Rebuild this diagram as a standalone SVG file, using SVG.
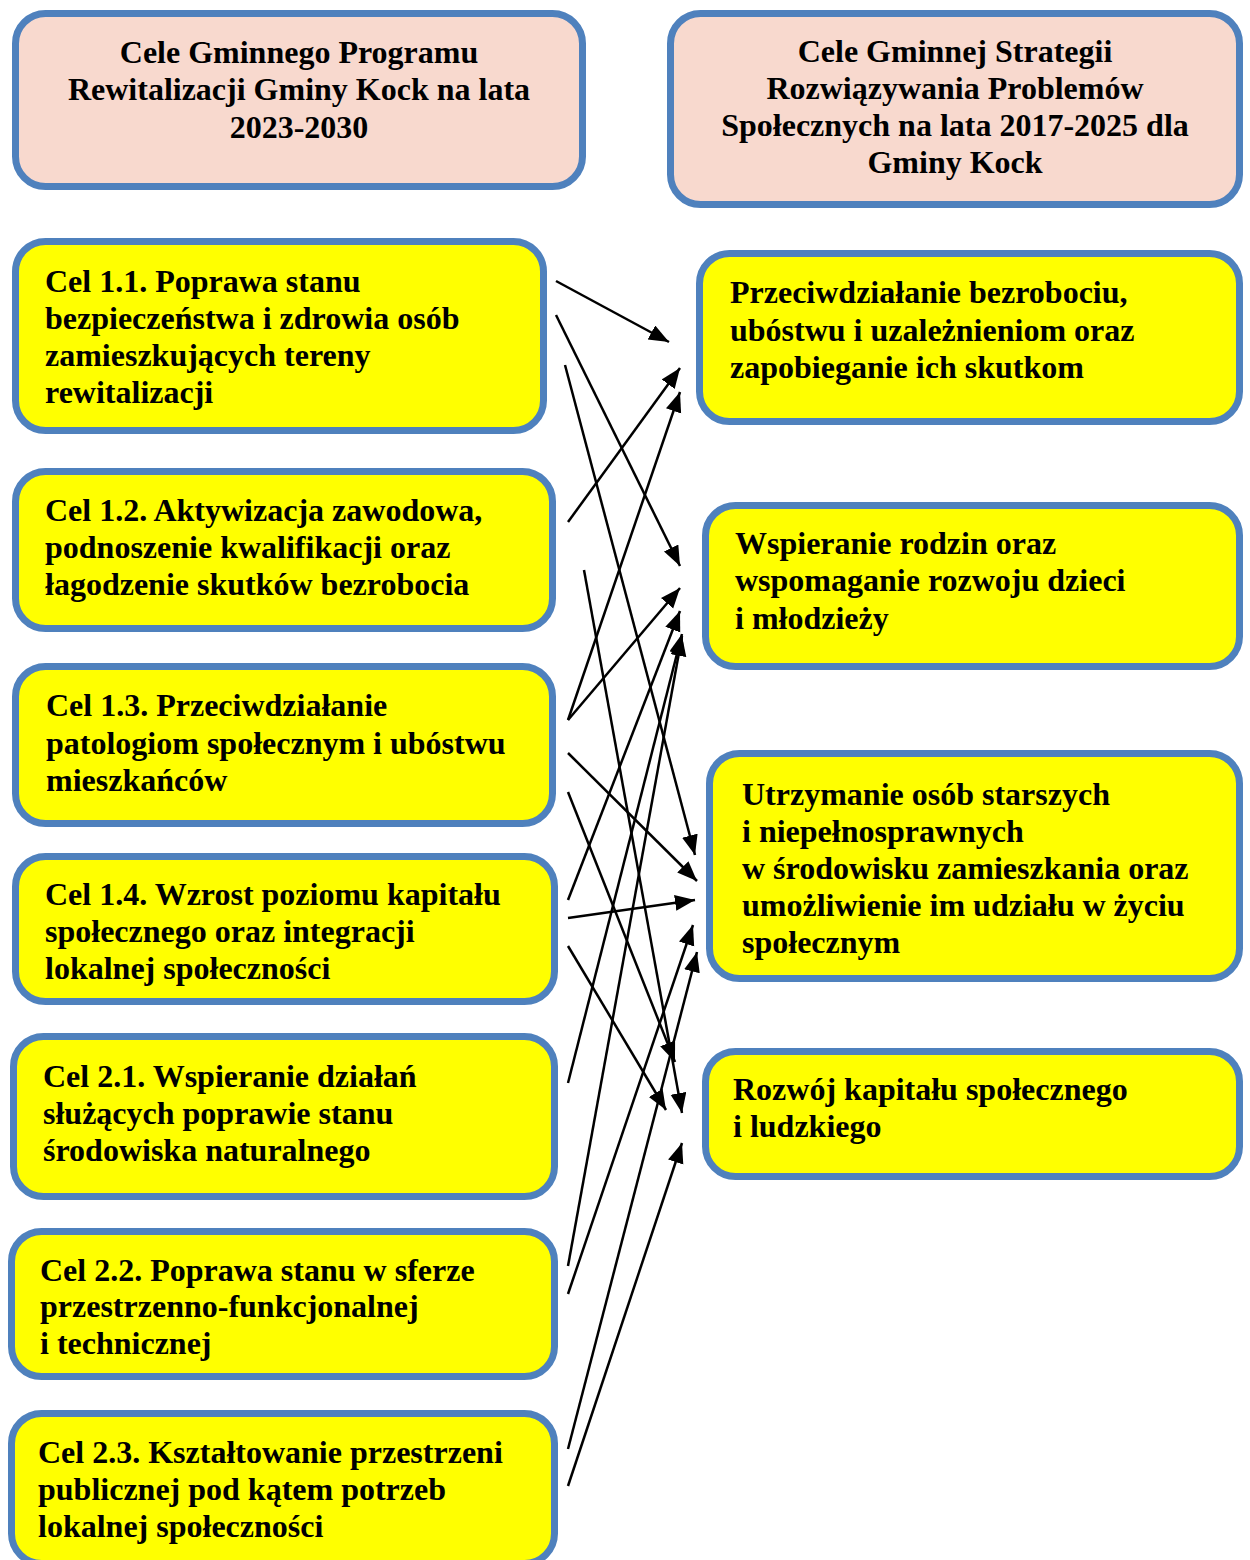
<svg xmlns="http://www.w3.org/2000/svg" width="1250" height="1560" viewBox="0 0 1250 1560">
<defs>
<marker id="ah" markerUnits="userSpaceOnUse" markerWidth="22" markerHeight="18" refX="20" refY="8" orient="auto">
<path d="M0,0 L20,8 L0,16 Z" fill="#000"/>
</marker>
<style>
.hdr{fill:#F8D9CE;stroke:#4F81BD;stroke-width:7}
.box{fill:#FFFF00;stroke:#4F81BD;stroke-width:7}
text{font-family:"Liberation Serif","Times New Roman",serif;font-weight:bold;font-size:32px;fill:#000}
.c{text-anchor:middle}
.ln{stroke:#000;stroke-width:2.5;fill:none;marker-end:url(#ah)}
</style>
</defs>
<rect width="1250" height="1560" fill="#fff"/>

<g id="header-left">
<rect class="hdr" x="15.5" y="13.5" width="567" height="173" rx="30"/>
<text class="c" x="299" y="63">Cele Gminnego Programu</text>
<text class="c" x="299" y="100">Rewitalizacji Gminy Kock na lata</text>
<text class="c" x="299" y="138">2023-2030</text>
</g>

<g id="header-right">
<rect class="hdr" x="670.5" y="13.5" width="569" height="191" rx="30"/>
<text class="c" x="955" y="62">Cele Gminnej Strategii</text>
<text class="c" x="955" y="99">Rozwiązywania Problemów</text>
<text class="c" x="955" y="136">Społecznych na lata 2017-2025 dla</text>
<text class="c" x="955" y="173">Gminy Kock</text>
</g>

<g id="cel-1-1">
<rect class="box" x="15.5" y="241.5" width="528" height="189" rx="30"/>
<text x="45" y="292">Cel 1.1. Poprawa stanu</text>
<text x="45" y="329">bezpieczeństwa i zdrowia osób</text>
<text x="45" y="366">zamieszkujących tereny</text>
<text x="45" y="403">rewitalizacji</text>
</g>

<g id="cel-1-2">
<rect class="box" x="15.5" y="471.5" width="537" height="157" rx="30"/>
<text x="45" y="521">Cel 1.2. Aktywizacja zawodowa,</text>
<text x="45" y="558">podnoszenie kwalifikacji oraz</text>
<text x="45" y="595">łagodzenie skutków bezrobocia</text>
</g>

<g id="cel-1-3">
<rect class="box" x="15.5" y="666.5" width="537" height="157" rx="30"/>
<text x="46" y="716">Cel 1.3. Przeciwdziałanie</text>
<text x="46" y="754">patologiom społecznym i ubóstwu</text>
<text x="46" y="791">mieszkańców</text>
</g>

<g id="cel-1-4">
<rect class="box" x="15.5" y="856.5" width="539" height="145" rx="30"/>
<text x="45" y="905">Cel 1.4. Wzrost poziomu kapitału</text>
<text x="45" y="942">społecznego oraz integracji</text>
<text x="45" y="979">lokalnej społeczności</text>
</g>

<g id="cel-2-1">
<rect class="box" x="13.5" y="1036.5" width="541" height="160" rx="30"/>
<text x="43" y="1087">Cel 2.1. Wspieranie działań</text>
<text x="43" y="1124">służących poprawie stanu</text>
<text x="43" y="1161">środowiska naturalnego</text>
</g>

<g id="cel-2-2">
<rect class="box" x="11.5" y="1231.5" width="543" height="145" rx="30"/>
<text x="40" y="1281">Cel 2.2. Poprawa stanu w sferze</text>
<text x="40" y="1317">przestrzenno-funkcjonalnej</text>
<text x="40" y="1354">i technicznej</text>
</g>

<g id="cel-2-3">
<rect class="box" x="11.5" y="1413.5" width="543" height="150" rx="30"/>
<text x="38" y="1463">Cel 2.3. Kształtowanie przestrzeni</text>
<text x="38" y="1500">publicznej pod kątem potrzeb</text>
<text x="38" y="1537">lokalnej społeczności</text>
</g>

<g id="strat-1">
<rect class="box" x="699.5" y="253.5" width="540" height="168" rx="30"/>
<text x="730" y="303">Przeciwdziałanie bezrobociu,</text>
<text x="730" y="341">ubóstwu i uzależnieniom oraz</text>
<text x="730" y="378">zapobieganie ich skutkom</text>
</g>

<g id="strat-2">
<rect class="box" x="705.5" y="505.5" width="534" height="161" rx="30"/>
<text x="735" y="554">Wspieranie rodzin oraz</text>
<text x="735" y="591">wspomaganie rozwoju dzieci</text>
<text x="735" y="629">i młodzieży</text>
</g>

<g id="strat-3">
<rect class="box" x="709.5" y="753.5" width="530" height="225" rx="30"/>
<text x="742" y="805">Utrzymanie osób starszych</text>
<text x="742" y="842">i niepełnosprawnych</text>
<text x="742" y="879">w środowisku zamieszkania oraz</text>
<text x="742" y="916">umożliwienie im udziału w życiu</text>
<text x="742" y="953">społecznym</text>
</g>

<g id="strat-4">
<rect class="box" x="705.5" y="1051.5" width="534" height="125" rx="30"/>
<text x="733" y="1100">Rozwój kapitału społecznego</text>
<text x="733" y="1137">i ludzkiego</text>
</g>

<g id="connectors">
<line class="ln" x1="556" y1="281" x2="669" y2="342"/>
<line class="ln" x1="556" y1="315" x2="680" y2="566"/>
<line class="ln" x1="565" y1="365" x2="695" y2="855"/>
<line class="ln" x1="568" y1="522" x2="680" y2="368"/>
<line class="ln" x1="584" y1="570" x2="682" y2="1113"/>
<line class="ln" x1="568" y1="720" x2="680" y2="392"/>
<line class="ln" x1="568" y1="720" x2="680" y2="588"/>
<line class="ln" x1="568" y1="753" x2="697" y2="881"/>
<line class="ln" x1="568" y1="792" x2="675" y2="1062"/>
<line class="ln" x1="568" y1="900" x2="680" y2="611"/>
<line class="ln" x1="568" y1="918" x2="695" y2="900"/>
<line class="ln" x1="568" y1="946" x2="666" y2="1110"/>
<line class="ln" x1="568" y1="1083" x2="682" y2="634"/>
<line class="ln" x1="568" y1="1266" x2="682" y2="636"/>
<line class="ln" x1="568" y1="1294" x2="693" y2="925"/>
<line class="ln" x1="568" y1="1449" x2="697" y2="952"/>
<line class="ln" x1="568" y1="1486" x2="682" y2="1143"/>
</g>
</svg>
